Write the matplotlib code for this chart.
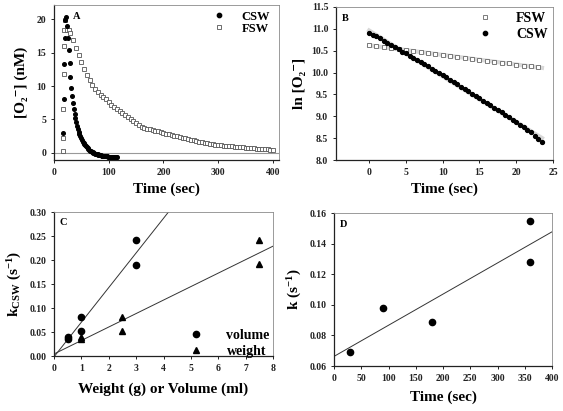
import numpy as np
import matplotlib
matplotlib.use("Agg")
import matplotlib.pyplot as plt
from matplotlib.ticker import FormatStrFormatter

plt.rcParams['font.family'] = ['Liberation Serif', 'DejaVu Serif']
plt.rcParams['font.weight'] = 'bold'
plt.rcParams['mathtext.fontset'] = 'custom'
plt.rcParams['mathtext.rm'] = 'Liberation Serif:bold'
plt.rcParams['mathtext.it'] = 'Liberation Serif:bold:italic'
plt.rcParams['mathtext.bf'] = 'Liberation Serif:bold'

# ---------------- Panel A data ----------------
a_csw_t = [17, 18, 19, 20, 21, 22.5, 24, 25.5, 27, 28.5, 30, 31.5, 33, 34.5, 36, 37.5,
           39, 40.5, 42, 43.5, 45, 46.5, 48, 49.5, 51, 52.5, 54, 55.5, 57, 58.5, 60,
           61.5, 63, 64.5, 66, 67.5, 69, 70.5, 72, 73.5, 75, 76.5, 78, 79.5, 81, 82.5,
           84, 85.5, 87, 88.5, 90, 91.5, 93, 94.5, 96, 97.5, 99, 100.5, 102, 103.5,
           105, 106.5, 108, 109.5, 111, 112.5, 114, 115.5]
a_csw_v = [3.0, 8.0, 13.3, 17.2, 19.8, 20.3, 19.0, 17.2, 15.4, 13.4, 11.3, 9.7, 8.5, 7.5,
           6.6, 5.8, 5.2, 4.6, 4.1, 3.6, 3.2, 2.8, 2.5, 2.2, 1.95, 1.7, 1.5, 1.3, 1.15,
           1.0, 0.85, 0.7, 0.55, 0.45, 0.35, 0.25, 0.17, 0.1, 0.03, -0.03, -0.08, -0.13,
           -0.18, -0.22, -0.26, -0.3, -0.33, -0.36, -0.39, -0.41, -0.43, -0.45, -0.47,
           -0.49, -0.5, -0.52, -0.54, -0.55, -0.56, -0.58, -0.59, -0.6, -0.61, -0.62,
           -0.63, -0.64, -0.65, -0.66]

a_fsw_t = [16, 16.5, 17, 17.5, 18, 19, 21, 24, 27, 30, 35, 40, 45, 50, 55, 60, 65, 70,
           75, 80, 85, 90, 95, 100, 105, 110, 115, 120, 125, 130, 135, 140, 145, 150,
           155, 160, 165, 170, 175, 180, 185, 190, 195, 200, 205, 210, 215, 220, 225,
           230, 235, 240, 245, 250, 255, 260, 265, 270, 275, 280, 285, 290, 295, 300,
           305, 310, 315, 320, 325, 330, 335, 340, 345, 350, 355, 360, 365, 370, 375,
           380, 385, 390, 395, 400]
a_fsw_v = [0.3, 2.2, 6.5, 11.8, 16.0, 18.4, 19.8, 18.4, 18.3, 17.9, 16.9, 15.7, 14.6,
           13.6, 12.6, 11.7, 10.9, 10.2, 9.6, 9.1, 8.7, 8.3, 8.0, 7.6, 7.2, 6.9, 6.6,
           6.3, 6.0, 5.7, 5.4, 5.1, 4.8, 4.5, 4.2, 3.9, 3.75, 3.65, 3.55, 3.45, 3.35,
           3.25, 3.1, 3.0, 2.9, 2.8, 2.7, 2.6, 2.5, 2.4, 2.3, 2.2, 2.1, 2.0, 1.9, 1.8,
           1.7, 1.6, 1.5, 1.45, 1.4, 1.3, 1.25, 1.2, 1.15, 1.1, 1.1, 1.05, 1.0, 0.95,
           0.95, 0.9, 0.85, 0.8, 0.8, 0.75, 0.7, 0.65, 0.65, 0.6, 0.55, 0.55, 0.5, 0.5]

# ---------------- Panel B data ----------------
b_csw_t = [0, 0.5, 1, 1.5, 2, 2.5, 3, 3.5, 4, 4.5, 5, 5.5, 6, 6.5, 7, 7.5, 8, 8.5, 9,
           9.5, 10, 10.5, 11, 11.5, 12, 12.5, 13, 13.5, 14, 14.5, 15, 15.5, 16, 16.5,
           17, 17.5, 18, 18.5, 19, 19.5, 20, 20.5, 21, 21.5, 22, 22.5, 23, 23.5]
b_csw_v = [10.90, 10.87, 10.83, 10.78, 10.73, 10.68, 10.63, 10.58, 10.53, 10.48, 10.44,
           10.39, 10.34, 10.29, 10.24, 10.19, 10.14, 10.09, 10.04, 9.99, 9.95, 9.89,
           9.84, 9.79, 9.73, 9.68, 9.63, 9.57, 9.52, 9.47, 9.42, 9.36, 9.31, 9.25, 9.20,
           9.14, 9.09, 9.03, 8.98, 8.92, 8.87, 8.81, 8.75, 8.69, 8.63, 8.56, 8.49, 8.42]
b_fsw_t = [0, 1, 2, 3, 4, 5, 6, 7, 8, 9, 10, 11, 12, 13, 14, 15, 16, 17, 18, 19, 20,
           21, 22, 23]
b_fsw_v = [10.62, 10.60, 10.58, 10.56, 10.54, 10.51, 10.49, 10.47, 10.45, 10.43, 10.40,
           10.38, 10.36, 10.34, 10.32, 10.29, 10.27, 10.25, 10.23, 10.21, 10.18, 10.16,
           10.14, 10.12]

# ---------------- Panel C data ----------------
c_vol_x = [0.5, 0.5, 1, 1, 3, 3]
c_vol_y = [0.040, 0.035, 0.081, 0.052, 0.241, 0.190]
c_wt_x = [1, 1, 2.5, 2.5, 7.5, 7.5]
c_wt_y = [0.040, 0.036, 0.081, 0.053, 0.242, 0.191]

# ---------------- Panel D data ----------------
d_x = [30, 90, 180, 360, 360]
d_y = [0.069, 0.098, 0.089, 0.155, 0.128]

W, H = 563, 411
fig = plt.figure(figsize=(W / 100, H / 100), dpi=100)

TICK_FS = 7
LAB_FS = 11
LEG_FS = 10
LET_FS = 7.5
O2M = 'O\u2082\u207b'


def style(ax):
    for s in ['left', 'bottom']:
        ax.spines[s].set_color('#222222')
        ax.spines[s].set_linewidth(0.9)
    for s in ['top', 'right']:
        ax.spines[s].set_color('#8a8a8a')
        ax.spines[s].set_linewidth(0.6)
    ax.tick_params(direction='out', length=2.5, width=0.7, labelsize=TICK_FS, pad=3,
                   colors='#222222')
    for lab in ax.get_xticklabels() + ax.get_yticklabels():
        lab.set_fontweight('bold')


def ax_rect(l, t, r, b):
    return [l / W, 1 - b / H, (r - l) / W, (b - t) / H]


# Panel A
axA = fig.add_axes(ax_rect(54, 5, 279, 160))
axA.axhline(0, color='#999999', lw=0.8, zorder=1)
axA.plot(a_csw_t, a_csw_v, 'o', ms=2.6, color='black', mec='black', label='CSW', zorder=3)
axA.plot(a_fsw_t, a_fsw_v, 's', ms=2.8, mfc='white', mec='#555555', mew=0.6,
         label='FSW', zorder=2)
axA.set_xlim(0, 411)
axA.set_ylim(-1.05, 22.1)
axA.set_xticks([0, 100, 200, 300, 400])
axA.set_yticks([0, 5, 10, 15, 20])
axA.set_xlabel('Time (sec)', fontsize=LAB_FS, fontweight='bold', labelpad=4)
axA.set_ylabel('[' + O2M + '] (nM)', fontsize=LAB_FS, fontweight='bold', labelpad=6)
axA.text(0.085, 0.955, 'A', transform=axA.transAxes, fontsize=LET_FS,
         fontweight='bold', va='top')
axA.legend(loc='upper right', bbox_to_anchor=(1.0, 1.02), frameon=False,
           fontsize=9, handletextpad=0.8, borderaxespad=0.3, labelspacing=0.0,
           markerscale=1.2)
style(axA)

# Panel B
axB = fig.add_axes(ax_rect(336, 7, 553, 160))
p = np.polyfit(b_fsw_t, b_fsw_v, 1)
axB.plot([b_fsw_t[0], b_fsw_t[-1] + 0.5], np.polyval(p, [b_fsw_t[0], b_fsw_t[-1] + 0.5]),
         color='#d8d8d8', lw=3, zorder=1)
p = np.polyfit(b_csw_t, b_csw_v, 1)
axB.plot([b_csw_t[0], b_csw_t[-1]], np.polyval(p, [b_csw_t[0], b_csw_t[-1]]),
         color='#d8d8d8', lw=3, zorder=1)
axB.plot(b_fsw_t, b_fsw_v, 's', ms=3.2, mfc='white', mec='#666666', mew=0.6,
         label='FSW', zorder=2)
axB.plot(b_csw_t, b_csw_v, 'o', ms=2.8, color='black', label='CSW', zorder=3)
axB.set_xlim(-4.5, 25)
axB.set_ylim(8.0, 11.5)
axB.set_xticks([0, 5, 10, 15, 20, 25])
axB.set_yticks(np.arange(8.0, 11.51, 0.5))
axB.yaxis.set_major_formatter(FormatStrFormatter('%.1f'))
axB.set_xlabel('Time (sec)', fontsize=LAB_FS, fontweight='bold', labelpad=4)
axB.set_ylabel('ln [' + O2M + ']', fontsize=LAB_FS, fontweight='bold', labelpad=4)
axB.text(0.025, 0.955, 'B', transform=axB.transAxes, fontsize=LET_FS,
         fontweight='bold', va='top')
axB.legend(loc='upper right', bbox_to_anchor=(1.02, 1.03), frameon=False,
           fontsize=LEG_FS, handletextpad=1.2, borderaxespad=0.3, labelspacing=0.2,
           markerscale=1.1)
style(axB)

# Panel C
axC = fig.add_axes(ax_rect(54, 212, 273, 356))
xs = np.array([0, 8])
p = np.polyfit(c_vol_x, c_vol_y, 1)
axC.plot(xs, np.polyval(p, xs), color='#333333', lw=0.7, zorder=1)
p = np.polyfit(c_wt_x, c_wt_y, 1)
axC.plot(xs, np.polyval(p, xs), color='#333333', lw=0.7, zorder=1)
axC.plot(c_vol_x, c_vol_y, 'o', ms=4.5, color='black', label='volume', zorder=3)
axC.plot(c_wt_x, c_wt_y, '^', ms=4.5, color='black', label='weight', zorder=3)
axC.set_xlim(0, 8)
axC.set_ylim(0, 0.30)
axC.set_xticks(range(0, 9))
axC.set_yticks(np.arange(0, 0.301, 0.05))
axC.yaxis.set_major_formatter(FormatStrFormatter('%.2f'))
axC.set_xlabel('Weight (g) or Volume (ml)', fontsize=LAB_FS, fontweight='bold',
               labelpad=7)
axC.set_ylabel(r'k$_{\mathrm{CSW}}$ (s$^{\mathrm{-1}}$)', fontsize=LAB_FS,
               fontweight='bold', labelpad=4)
axC.text(0.025, 0.955, 'C', transform=axC.transAxes, fontsize=LET_FS,
         fontweight='bold', va='top')
axC.legend(loc='lower right', bbox_to_anchor=(1.03, -0.08), frameon=False,
           fontsize=LEG_FS, handletextpad=1.2, borderaxespad=0.3, labelspacing=0.2)
style(axC)

# Panel D
axD = fig.add_axes(ax_rect(334, 213, 552, 366))
xs = np.array([0, 400])
p = np.polyfit(d_x, d_y, 1)
axD.plot(xs, np.polyval(p, xs), color='#333333', lw=0.7, zorder=1)
axD.plot(d_x, d_y, 'o', ms=4.5, color='black', zorder=3)
axD.set_xlim(0, 400)
axD.set_ylim(0.06, 0.16)
axD.set_xticks(range(0, 401, 50))
axD.set_yticks(np.arange(0.06, 0.161, 0.02))
axD.yaxis.set_major_formatter(FormatStrFormatter('%.2f'))
axD.set_xlabel('Time (sec)', fontsize=LAB_FS, fontweight='bold', labelpad=6)
axD.set_ylabel(r'k (s$^{\mathrm{-1}}$)', fontsize=LAB_FS, fontweight='bold', labelpad=4)
axD.text(0.025, 0.955, 'D', transform=axD.transAxes, fontsize=LET_FS,
         fontweight='bold', va='top')
style(axD)

fig.savefig('out.png', dpi=100)
